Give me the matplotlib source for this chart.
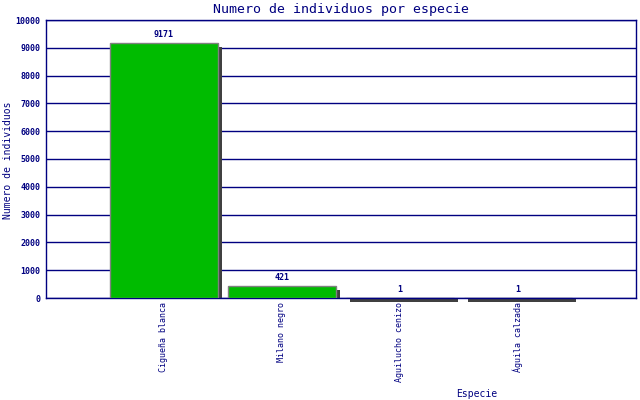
import matplotlib
matplotlib.use("Agg")
import matplotlib.pyplot as plt
from matplotlib import transforms

categories = ["Cigueña blanca", "Milano negro", "Aguilucho cenizo", "Águila calzada"]
values = [9171, 421, 1, 1]
yticks = [0, 1000, 2000, 3000, 4000, 5000, 6000, 7000, 8000, 9000, 10000]

navy = "#000080"
green = "#00bb00"
shadow = "#404040"
font = "DejaVu Sans Mono"

fig = plt.figure(figsize=(6.4, 4.0), dpi=100)
ax = fig.add_axes([46/640, 1 - 298/400, 590/640, 278/400])
ax.set_xlim(-1, 4)
ax.set_ylim(0, 10000)

x = list(range(len(categories)))
w = 0.907
sh = 4  # shadow offset in pixels
# data units per pixel (vertical)
p0 = ax.transData.inverted().transform((0, 0))
p1 = ax.transData.inverted().transform((0, sh))
d = p1[1] - p0[1]

off = transforms.offset_copy(ax.transData, fig=fig, x=sh, y=-sh, units="dots")
for xi, v in zip(x, values):
    if v > d:
        ax.bar(xi, v - d, bottom=d, width=w, color=shadow, transform=off,
               zorder=2, clip_on=False, linewidth=0)
    else:
        ax.bar(xi, d * 0.9, bottom=0, width=w, color=shadow, transform=off,
               zorder=2, clip_on=False, linewidth=0)
ax.bar(x, values, width=w, color=green, edgecolor="#808080", linewidth=1.0, zorder=3)

for xi, v in zip(x, values):
    ax.annotate(str(v), (xi, v), xytext=(0, 3), textcoords="offset points",
                ha="center", va="bottom", fontsize=6, color=navy,
                family=font, fontweight="bold")

ax.set_yticks(yticks)
ax.set_yticklabels([str(t) for t in yticks], fontsize=6, color=navy,
                   family=font, fontweight="bold")
ax.set_xticks(x)
ax.set_xticklabels(categories, rotation=90, fontsize=6, color=navy, family=font)
ax.tick_params(axis="both", length=0, pad=4)
ax.tick_params(axis="x", pad=3)
ax.grid(axis="y", color=navy, linewidth=1.0, zorder=1)
ax.set_axisbelow(True)
for s in ax.spines.values():
    s.set_color(navy)
    s.set_linewidth(1.0)

fig.text(341/640, 1 - 9/400, "Numero de individuos por especie", ha="center",
         va="center", fontsize=9.5, color=navy, family=font)
fig.text(8/640, 1 - 160/400, "Numero de individuos", rotation=90, ha="center",
         va="center", fontsize=7, color=navy, family=font)
fig.text(477/640, 1 - 394/400, "Especie", ha="center", va="center",
         fontsize=7, color=navy, family=font)

fig.savefig("out.png", dpi=100)
